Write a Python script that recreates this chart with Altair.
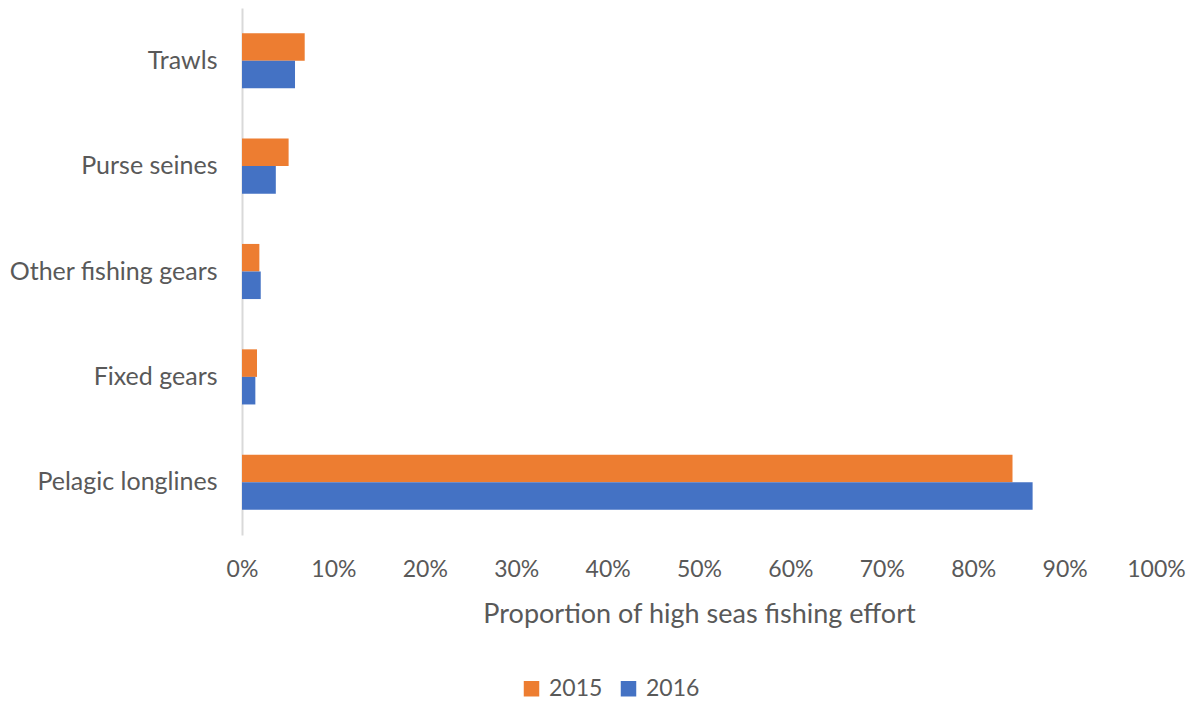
import altair as alt
import pandas as pd

categories = ["Trawls", "Purse seines", "Other fishing gears", "Fixed gears", "Pelagic longlines"]
years = ["2015", "2016"]
values_2015 = [0.0686, 0.051, 0.019, 0.0164, 0.843]
values_2016 = [0.058, 0.037, 0.0205, 0.0146, 0.865]
x_ticks = [0, 0.1, 0.2, 0.3, 0.4, 0.5, 0.6, 0.7, 0.8, 0.9, 1.0]
colors = ["#ED7D31", "#4472C4"]

rows = []
for c, v15, v16 in zip(categories, values_2015, values_2016):
    rows.append({"gear": c, "year": "2015", "value": v15})
    rows.append({"gear": c, "year": "2016", "value": v16})
df = pd.DataFrame(rows)

FONT = "Lato"
GRAY = "#595959"

chart = alt.Chart(df).mark_bar().encode(
    y=alt.Y("gear:N", sort=categories,
            scale=alt.Scale(paddingInner=0.477, paddingOuter=0.2385),
            axis=alt.Axis(title=None, ticks=False, domainColor="#d9d9d9", domainWidth=2,
                          labelFont=FONT, labelFontSize=25, labelColor=GRAY,
                          labelPadding=25, labelLimit=0, grid=False)),
    yOffset=alt.YOffset("year:N", sort=years, scale=alt.Scale(paddingInner=0, paddingOuter=0)),
    x=alt.X("value:Q", scale=alt.Scale(domain=[0, 1], nice=False),
            axis=alt.Axis(title="Proportion of high seas fishing effort", format=".0%",
                          values=x_ticks, domain=False, ticks=False, grid=False,
                          labelFlush=False, labelFont=FONT, labelFontSize=23,
                          labelColor=GRAY, labelPadding=23,
                          titleFont=FONT, titleFontSize=27, titleColor=GRAY,
                          titleFontWeight="normal", titlePadding=20)),
    color=alt.Color("year:N", sort=years,
                    scale=alt.Scale(domain=years, range=colors),
                    legend=alt.Legend(title=None, orient="none", direction="horizontal",
                                      legendX=278, legendY=669,
                                      symbolType="square", symbolSize=240,
                                      symbolStrokeWidth=0,
                                      labelFont=FONT, labelFontSize=23, labelColor=GRAY,
                                      columnPadding=14, labelOffset=6)),
).properties(
    width=914, height=527,
    padding={"left": 242, "top": 8, "right": 37, "bottom": 169},
    autosize=alt.AutoSizeParams(type="none"),
    background="white",
).configure_view(strokeWidth=0, stroke=None)

chart.save("out.html", embed_options={"renderer": "svg", "actions": False})
